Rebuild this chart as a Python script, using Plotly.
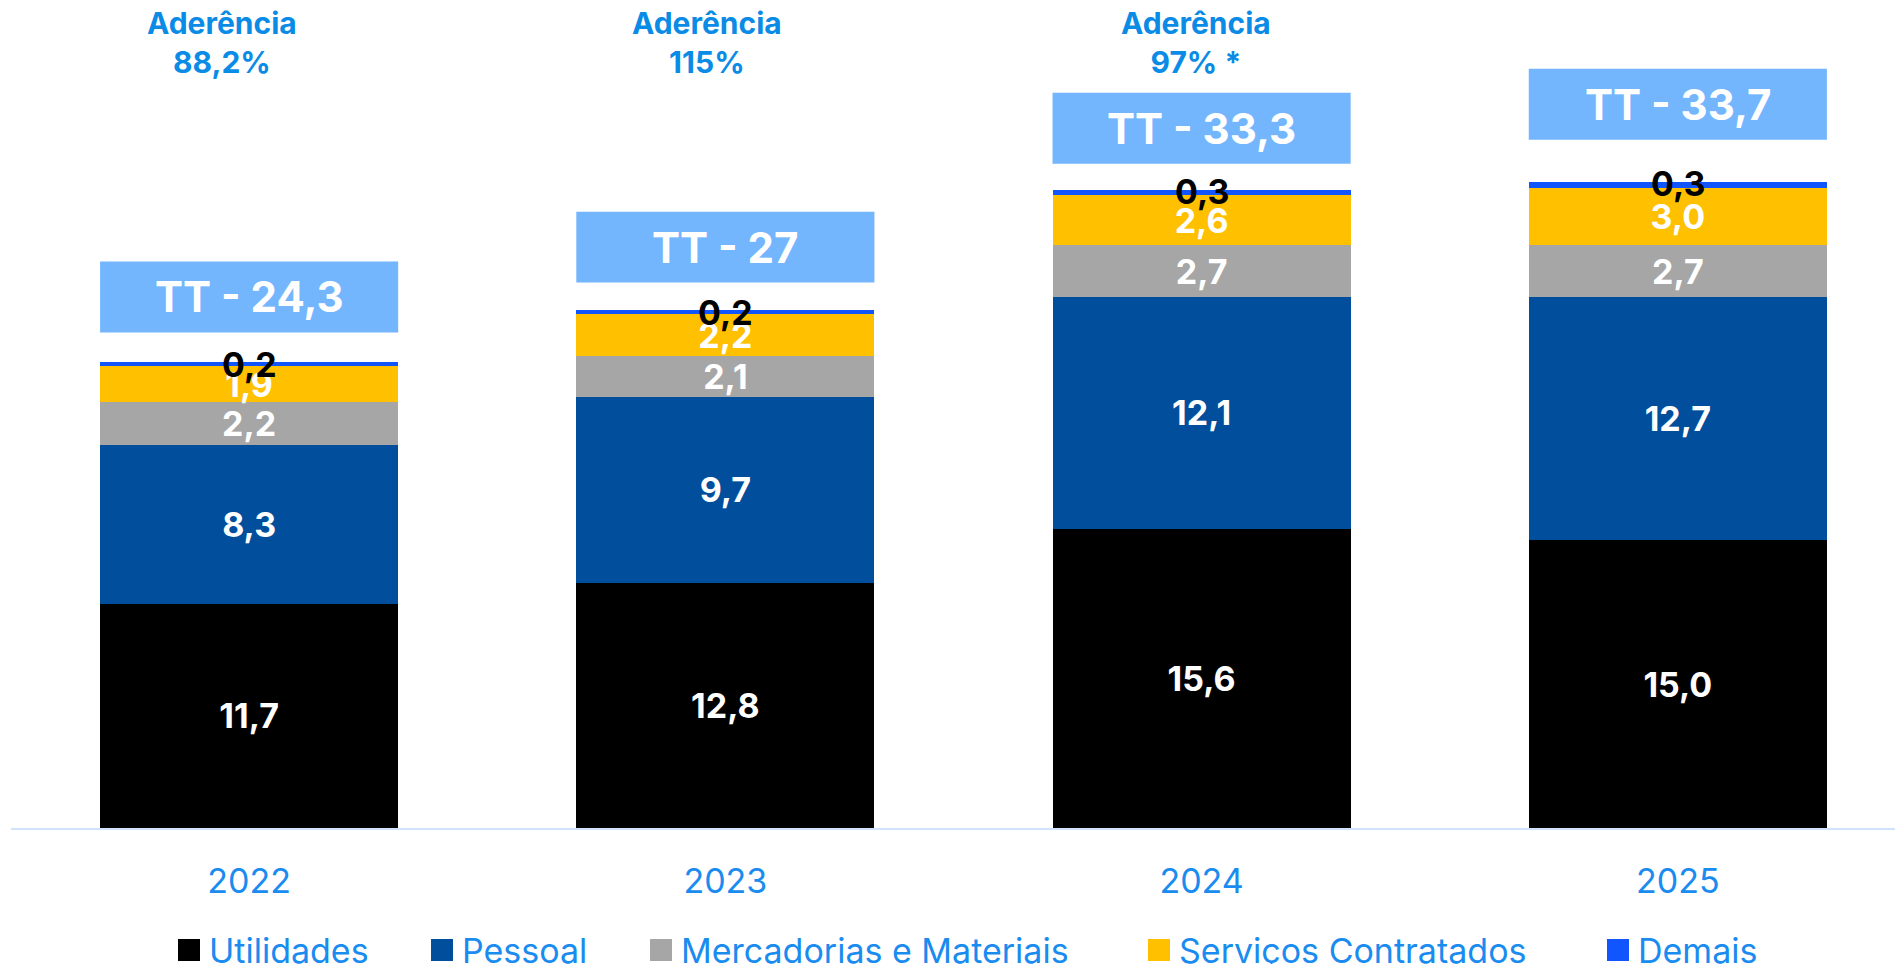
import plotly.graph_objects as go

# --- data ---
years = ["2022", "2023", "2024", "2025"]
utilidades = [11.7, 12.8, 15.6, 15.0]
pessoal = [8.3, 9.7, 12.1, 12.7]
mercadorias = [2.2, 2.1, 2.7, 2.7]
servicos = [1.9, 2.2, 2.6, 3.0]
demais = [0.2, 0.2, 0.3, 0.3]
totais = ["24,3", "27", "33,3", "33,7"]
aderencia = ["88,2%", "115%", "97% *", ""]

# --- layout helpers (pixels of the 1895x964 page) ---
W, H = 1895, 964
L, B = 11, 136
PW, PH = W - L, H - B
Y_MAX = PH / 19.17
X_MAX = 3.456
BARGAP = 0.374
box_offsets = [1.55, 1.45, 1.35, 2.2]
BOX_H = 3.7
aderencia_dx = [-0.056, -0.039, -0.011, 0]

BLUE_TXT = "#1a8cf0"
FONT = "Inter"


def fmt(v):
    return f"{v:.1f}".replace(".", ",")


def px(x):
    return (x - L) / PW


def py(y):
    return (PH - y) / PH


series = [
    ("Utilidades", utilidades, "#000000"),
    ("Pessoal", pessoal, "#004e9c"),
    ("Mercadorias e Materiais", mercadorias, "#a6a6a6"),
    ("Serviços Contratados", servicos, "#ffc000"),
    ("Demais", demais, "#1155ff"),
]

fig = go.Figure()
for name, vals, color in series:
    is_top = name == "Demais"
    fig.add_trace(go.Bar(
        x=years, y=vals, name=name,
        marker=dict(color=color, line=dict(width=0)),
        text=None if is_top else [fmt(v) for v in vals],
        textposition="inside",
        insidetextanchor="middle",
        textangle=0,
        insidetextfont=dict(family=FONT, size=34, color="white", weight=700),
        showlegend=False,
        hoverinfo="skip",
    ))

sums = [sum(s[1][i] for s in series) for i in range(len(years))]
half = (1 - BARGAP) / 2

for i, yr in enumerate(years):
    # small "Demais" value on top of the stack
    fig.add_annotation(x=i, y=sums[i], text=fmt(demais[i]), showarrow=False,
                       yanchor="middle", yshift=-2,
                       font=dict(family=FONT, size=34, color="black", weight=700))
    # total box
    y0 = sums[i] + box_offsets[i]
    fig.add_shape(type="rect", x0=i - half, x1=i + half, y0=y0, y1=y0 + BOX_H,
                  fillcolor="#74b6fd", line=dict(width=0), layer="above")
    fig.add_annotation(x=i, y=y0 + BOX_H / 2, text=f"TT - {totais[i]}", showarrow=False,
                       yanchor="middle",
                       font=dict(family=FONT, size=42, color="white", weight=700))
    # aderencia
    if aderencia[i]:
        fig.add_annotation(x=i + aderencia_dx[i], y=py(3), yref="paper",
                           xanchor="center", yanchor="top",
                           text=f"Aderência<br>{aderencia[i]}", showarrow=False,
                           font=dict(family=FONT, size=30, color="#0a8be6", weight=700))

# custom legend (square + label), pixel positions from the reference
legend_x = [178, 431, 650, 1148, 1607]
for (name, _, color), lx in zip(series, legend_x):
    fig.add_shape(type="rect", xref="paper", yref="paper",
                  x0=px(lx), x1=px(lx + 22), y0=py(939), y1=py(961),
                  fillcolor=color, line=dict(width=0))
    fig.add_annotation(xref="paper", yref="paper", x=px(lx + 29), y=py(950),
                       xanchor="left", yanchor="middle", text=name, showarrow=False,
                       font=dict(family=FONT, size=34, color=BLUE_TXT))

fig.update_layout(
    width=W, height=H,
    barmode="stack", bargap=BARGAP,
    margin=dict(l=L, r=0, t=0, b=B),
    paper_bgcolor="white", plot_bgcolor="white",
    uniformtext=dict(mode=False),
)
fig.update_xaxes(range=[-0.5, X_MAX],
                 showline=True, linecolor="#cfe3fb", linewidth=2,
                 showgrid=False, ticks="", ticklabelstandoff=22,
                 tickfont=dict(family=FONT, size=34, color=BLUE_TXT))
fig.update_yaxes(range=[0, Y_MAX], visible=False, showgrid=False)

# bar text must keep its size even in thin segments
fig.update_traces(constraintext="none")

fig.write_html("out.html", config={"displayModeBar": False},
               post_script="document.body.style.margin='0';")
